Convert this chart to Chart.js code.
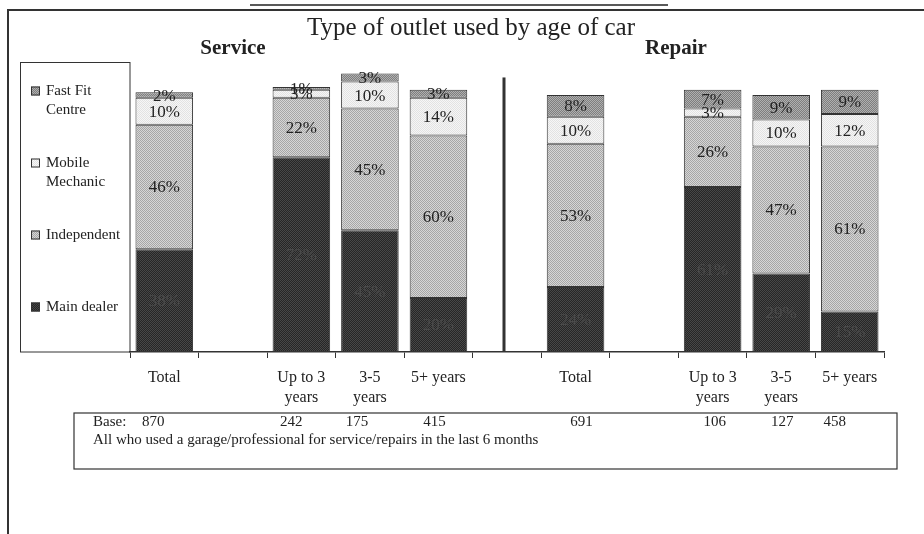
<!DOCTYPE html>
<html><head><meta charset="utf-8">
<script src="https://cdn.jsdelivr.net/npm/chart.js@4/dist/chart.umd.min.js"></script>
<style>html,body{margin:0;padding:0;background:#fff}#wrap{width:924px;height:534px;position:relative}</style>
</head><body><div id="wrap"><canvas id="c" width="924" height="534"></canvas></div>
<script>
// ---- data ----
const categories = ["Total", "", ["Up to 3", "years"], ["3-5", "years"], "5+ years", "", "Total", "", ["Up to 3", "years"], ["3-5", "years"], "5+ years"];
const mainDealer     = [38, null, 72, 45, 20, null, 24, null, 61, 29, 15];
const independent    = [46, null, 22, 45, 60, null, 53, null, 26, 47, 61];
const mobileMechanic = [10, null, 3, 10, 14, null, 10, null, 3, 10, 12];
const fastFitCentre  = [2, null, 1, 3, 3, null, 8, null, 7, 9, 9];
const seriesNames = ["Main dealer", "Independent", "Mobile Mechanic", "Fast Fit Centre"];
const legendLines = {"Fast Fit Centre": ["Fast Fit", "Centre"], "Mobile Mechanic": ["Mobile", "Mechanic"], "Independent": ["Independent"], "Main dealer": ["Main dealer"]};
const baseSizes = [870, null, 242, 175, 415, null, 691, null, 106, 127, 458];
const baseNote = "All who used a garage/professional for service/repairs in the last 6 months";
const titleText = "Type of outlet used by age of car";
const groupTitles = ["Service", "Repair"];
const dividerIndex = 5;
const dividerTop = 101.5;
const yMax = 105;

// ---- styles ----
const SERIF = "'Liberation Serif', 'Times New Roman', serif";
const cv = document.getElementById('c');
const ctx = cv.getContext('2d');
function pat(c1, c2) {
  const p = document.createElement('canvas'); p.width = 2; p.height = 2;
  const x = p.getContext('2d');
  x.fillStyle = c1; x.fillRect(0, 0, 2, 2);
  x.fillStyle = c2; x.fillRect(0, 0, 1, 1); x.fillRect(1, 1, 1, 1);
  return ctx.createPattern(p, 'repeat');
}
const fills = [pat('#262626', '#474747'), pat('#d6d6d6', '#a6a6a6'), pat('#f6f6f6', '#e2e2e2'), pat('#7e7e7e', '#b0b0b0')];
const labelColors = ['#4a4a4a', '#222', '#222', '#222'];
const seriesData = [mainDealer, independent, mobileMechanic, fastFitCentre];
const baseShift = [-11, 0, -10, -13, -4, 0, 6, 0, 2, 1, -15];

const datasets = seriesNames.map((n, i) => ({
  label: n, data: seriesData[i], backgroundColor: fills[i],
  borderColor: '#333', borderWidth: 1, borderSkipped: false,
  barPercentage: 0.84, categoryPercentage: 1.0
}));

const decor = {
  id: 'decor',
  afterDatasetsDraw(chart) {
    const c = chart.ctx;
    c.save();
    c.font = `17px ${SERIF}`; c.textAlign = 'center'; c.textBaseline = 'middle';
    chart.data.datasets.forEach((ds, di) => {
      const meta = chart.getDatasetMeta(di);
      meta.data.forEach((el, i) => {
        const v = ds.data[i];
        if (v == null) return;
        c.fillStyle = labelColors[di];
        c.fillText(v + '%', el.x, (el.y + el.base) / 2 + 1);
      });
    });
    c.restore();
  },
  afterDraw(chart) {
    const c = chart.ctx, xs = chart.scales.x, ys = chart.scales.y, ca = chart.chartArea;
    c.save();
    c.strokeStyle = '#333'; c.lineWidth = 2;
    c.beginPath(); c.moveTo(8, 534); c.lineTo(8, 10); c.lineTo(924, 10); c.stroke();
    c.lineWidth = 1.5; c.strokeStyle = '#222';
    c.beginPath(); c.moveTo(250, 5); c.lineTo(668, 5); c.stroke();
    c.fillStyle = '#222'; c.textAlign = 'center'; c.textBaseline = 'alphabetic';
    c.font = `25px ${SERIF}`; c.fillText(titleText, 471, 35);
    c.font = `bold 21px ${SERIF}`;
    c.fillText(groupTitles[0], 233, 54);
    c.fillText(groupTitles[1], 676, 54);
    c.strokeStyle = '#333'; c.lineWidth = 1;
    c.strokeRect(20.5, 62.5, ca.left - 20.5, ca.bottom - 62.5);
    const order = [3, 2, 1, 0];
    c.font = `15px ${SERIF}`; c.textAlign = 'left'; c.textBaseline = 'middle';
    order.forEach((di, k) => {
      const ds = chart.data.datasets[di];
      const y0 = 91 + k * 72;
      c.fillStyle = ds.backgroundColor; c.fillRect(31, y0 - 4.5, 9, 9);
      c.strokeStyle = '#333'; c.strokeRect(31.5, y0 - 4, 8, 8);
      c.fillStyle = '#222';
      legendLines[ds.label].forEach((t, j) => c.fillText(t, 46, y0 + j * 19));
    });
    const dx = xs.getPixelForValue(dividerIndex) - 3;
    c.fillStyle = '#333';
    c.fillRect(dx - 1.5, ys.getPixelForValue(dividerTop), 3, ca.bottom - ys.getPixelForValue(dividerTop));
    c.strokeStyle = '#333'; c.lineWidth = 1.2;
    c.strokeRect(74, 413, 823, 56);
    c.fillStyle = '#222'; c.font = `15px ${SERIF}`; c.textAlign = 'left'; c.textBaseline = 'middle';
    c.fillText('Base:', 93, 422);
    c.fillText(baseNote, 93, 440);
    c.textAlign = 'center';
    baseSizes.forEach((b, i) => { if (b != null) c.fillText(String(b), xs.getPixelForValue(i) + baseShift[i], 422); });
    c.restore();
  }
};

new Chart(cv, {
  type: 'bar',
  data: { labels: categories, datasets },
  options: {
    responsive: false, animation: false,
    layout: { padding: { top: 68, left: 130, right: 40, bottom: 0 } },
    plugins: { legend: { display: false }, tooltip: { enabled: false }, title: { display: false } },
    scales: {
      x: {
        stacked: true, offset: true,
        grid: { display: true, drawOnChartArea: false, drawTicks: true, tickLength: 6, color: '#333', offset: true },
        border: { display: true, color: '#333', width: 1.5 },
        ticks: { color: '#222', font: { family: SERIF, size: 16, lineHeight: 1.25 }, padding: 10, autoSkip: false, maxRotation: 0 },
        afterFit(s) { s.height = 534 - 352; }
      },
      y: { stacked: true, display: false, min: 0, max: yMax }
    }
  },
  plugins: [decor]
});
</script></body></html>
